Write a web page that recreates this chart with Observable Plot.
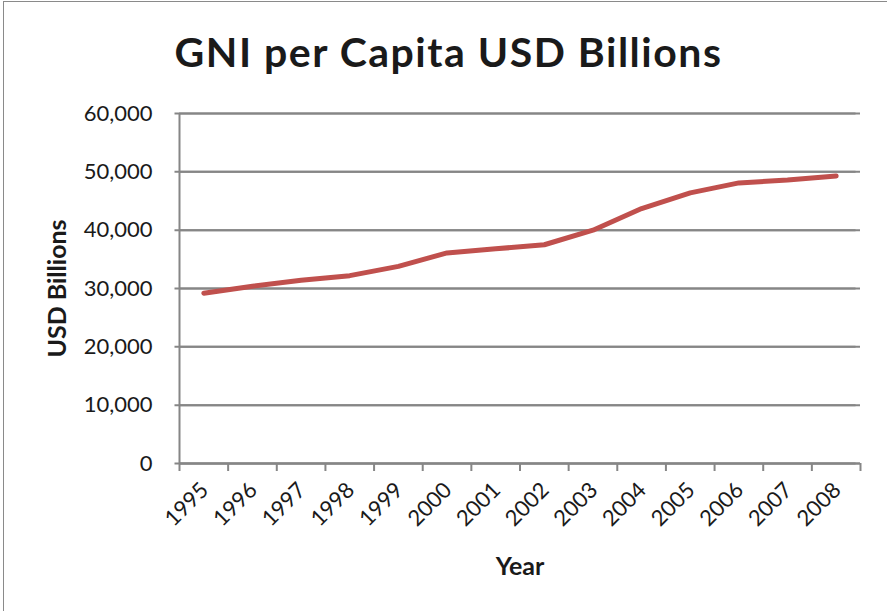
<!DOCTYPE html>
<html><head><meta charset="utf-8">
<script src="https://cdn.jsdelivr.net/npm/d3@7"></script>
<script src="https://cdn.jsdelivr.net/npm/@observablehq/plot@0.6"></script>
<style>
body{margin:0;background:#fff;}
#wrap{position:relative;width:887px;height:611px;overflow:hidden;font-family:Lato,sans-serif;}
#chart{position:absolute;left:0;top:0;}
#frame{position:absolute;left:3px;top:1px;width:900px;height:700px;border:1.5px solid #8a8a8a;pointer-events:none;}
#title{position:absolute;left:0;width:897px;top:31px;text-align:center;font-weight:bold;font-size:41px;letter-spacing:1.5px;color:#1a1a1a;line-height:1;white-space:nowrap;}
</style></head><body>
<div id="wrap"><div id="chart"></div><div id="frame"></div><div id="title">GNI per Capita USD Billions</div></div>
<script>
const years = [1995,1996,1997,1998,1999,2000,2001,2002,2003,2004,2005,2006,2007,2008];
const gni = [29200,30400,31400,32200,33800,36100,36800,37500,40000,43700,46400,48100,48600,49300];
const yTicks = [0,10000,20000,30000,40000,50000,60000];
const data = years.map((year,i)=>({year, value: gni[i]}));
const edges = d3.range(years.length+1).map(i => years[0]-0.5+i);
const grey = "#868686";
const chart = Plot.plot({
  width:887, height:611,
  marginLeft:179, marginRight:27, marginTop:113, marginBottom:148,
  style:{background:"transparent", fontFamily:"Lato, sans-serif", color:"#1a1a1a"},
  x:{domain:[years[0]-0.5, years[years.length-1]+0.5]},
  y:{domain:[0,60000]},
  marks:[
    Plot.gridY(yTicks,{stroke:grey,strokeOpacity:1,strokeWidth:2}),
    Plot.ruleX([years[0]-0.5],{stroke:grey,strokeWidth:2}),
    Plot.tickY(yTicks,{y:d=>d, stroke:grey, strokeWidth:2, dx:-4.5}),
    Plot.axisY(yTicks,{tickSize:0, tickPadding:27, tickFormat:d3.format(","), fontSize:22, label:null}),
    Plot.axisX(edges,{tickSize:8, tickFormat:()=>"", stroke:grey, strokeWidth:2, label:null}),
    Plot.ruleY([0],{stroke:grey,strokeWidth:2}),
    Plot.text(years,{x:d=>d, text:d=>String(d), frameAnchor:"bottom", rotate:-45, textAnchor:"end", dx:6, dy:28, fontSize:22}),
    Plot.text(["Year"],{frameAnchor:"bottom", lineAnchor:"middle", textAnchor:"middle", dy:103, fontSize:25, fontWeight:"bold"}),
    Plot.text(["USD Billions"],{frameAnchor:"left", lineAnchor:"middle", textAnchor:"middle", dx:-121.5, rotate:-90, fontSize:25, fontWeight:"bold"}),
    Plot.line(data,{x:"year",y:"value",stroke:"#C0504D",strokeWidth:5})
  ]
});
document.getElementById("chart").appendChild(chart);
</script>
</body></html>
